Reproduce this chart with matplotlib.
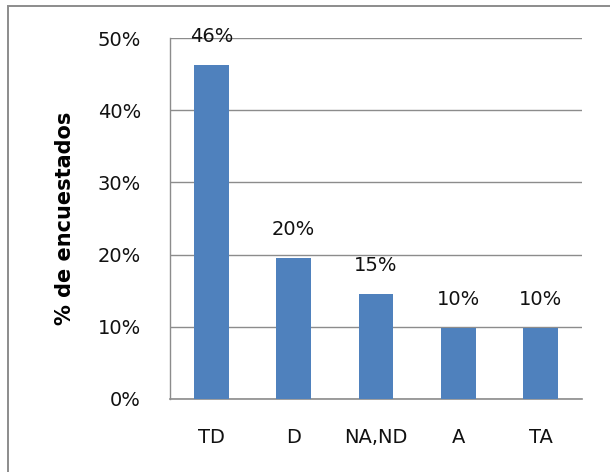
import matplotlib.pyplot as plt
from matplotlib.patches import Rectangle
import numpy as np

categories = ["TD", "D", "NA,ND", "A", "TA"]
values = [46.3, 19.5, 14.6, 9.8, 9.8]
labels = ["46%", "20%", "15%", "10%", "10%"]
yticks = [0, 10, 20, 30, 40, 50]

plt.rcParams['font.family'] = ['DejaVu Sans']

fig = plt.figure(figsize=(6.1, 4.72), dpi=100)
ax = fig.add_axes([0.279, 0.155, 0.675, 0.764])

# outer chart border (only top/left visible in the crop)
fig.patches.append(Rectangle((8 / 610, -0.1), 1.2, 1.1 - 6 / 472, transform=fig.transFigure,
                             fill=False, edgecolor="#8c8c8c", linewidth=1.4))

x = np.arange(len(categories))
bars = ax.bar(x, values, width=0.42, color="#4f81bd", zorder=3)

for xi, v, lab in zip(x, values, labels):
    ax.text(xi, v + 2.6, lab, ha="center", va="bottom", fontsize=14, color="#111111")

ax.set_xlim(-0.5, len(categories) - 0.5)
ax.set_ylim(0, 50)
ax.set_yticks(yticks)
ax.set_yticklabels([f"{t}%" for t in yticks], fontsize=14)
ax.set_xticks(x)
ax.set_xticklabels(categories, fontsize=14)
ax.tick_params(axis="both", length=0, colors="#111111")
ax.tick_params(axis="y", pad=21)
ax.tick_params(axis="x", pad=21)

ax.grid(axis="y", color="#8c8c8c", linewidth=1.0, zorder=0)
for s in ["top", "right"]:
    ax.spines[s].set_visible(False)
ax.spines["left"].set_color("#8c8c8c")
ax.spines["bottom"].set_color("#8c8c8c")
ax.spines["left"].set_linewidth(1.0)
ax.spines["bottom"].set_linewidth(1.2)

ax.set_ylabel("% de encuestados", fontsize=15, fontweight="bold", labelpad=16)

fig.savefig("out.png", dpi=100)
